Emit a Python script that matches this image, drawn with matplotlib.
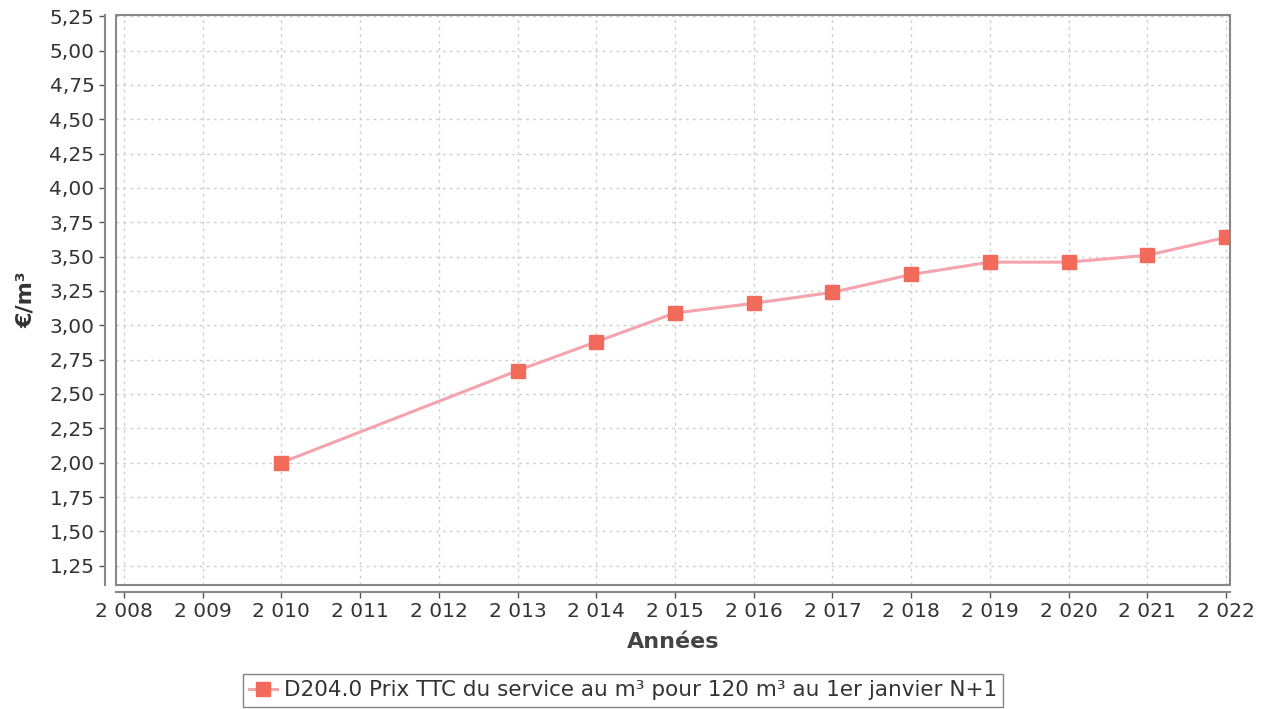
import matplotlib.pyplot as plt
from matplotlib.patches import Rectangle
from matplotlib.ticker import FixedLocator, FuncFormatter

# valeurs
annees = [2010, 2013, 2014, 2015, 2016, 2017, 2018, 2019, 2020, 2021, 2022]
prix = [2.00, 2.67, 2.88, 3.09, 3.16, 3.24, 3.37, 3.46, 3.46, 3.51, 3.64]
x_ticks = list(range(2008, 2023))
y_ticks = [1.25 + 0.25 * i for i in range(17)]
legende = "D204.0 Prix TTC du service au m³ pour 120 m³ au 1er janvier N+1"

fig = plt.figure(figsize=(12.66, 7.09), dpi=100)
ax = fig.add_axes([0.0916, 0.175, 0.88, 0.804])

gris = "#555555"
ax.plot(annees, prix, color="#f5a3ad", lw=2.2, marker="s", ms=10,
        markerfacecolor="#f26a5a", markeredgecolor="#f26a5a", label=legende, zorder=3)

ax.set_xlim(2007.9, 2022.05)
ax.set_ylim(1.11, 5.26)
ax.xaxis.set_major_locator(FixedLocator(x_ticks))
ax.yaxis.set_major_locator(FixedLocator(y_ticks))
ax.xaxis.set_major_formatter(FuncFormatter(lambda v, p: f"{int(v) // 1000} {int(v) % 1000:03d}"))
ax.yaxis.set_major_formatter(FuncFormatter(lambda v, p: f"{v:.2f}".replace(".", ",")))

ax.grid(True, color="#cfcfcf", linestyle=(0, (2, 3)), lw=1.0)
ax.tick_params(colors=gris, labelcolor="#333333", labelsize=14.5, length=4, width=1)

for s in ["top", "right"]:
    ax.spines[s].set_visible(False)
ax.spines["left"].set_position(("outward", 8))
ax.spines["bottom"].set_position(("outward", 5))
for s in ["left", "bottom"]:
    ax.spines[s].set_color("#888888")
    ax.spines[s].set_linewidth(1.5)
ax.add_patch(Rectangle((0, 0), 1, 1, transform=ax.transAxes, fill=False,
                       edgecolor="#888888", lw=1.5, clip_on=False, zorder=4))

ax.set_xlabel("Années", fontsize=16, fontweight="bold", color="#444444", labelpad=8)
ax.set_ylabel("€/m³", fontsize=16, fontweight="bold", color="#333333", labelpad=10)

leg = fig.legend(loc="lower center", bbox_to_anchor=(0.492, -0.012), fontsize=15.5,
                 frameon=True, fancybox=False, edgecolor="#666666",
                 borderpad=0.3, handlelength=1.3, handletextpad=0.3)
for t in leg.get_texts():
    t.set_color("#333333")

fig.savefig("out.png", dpi=100)
